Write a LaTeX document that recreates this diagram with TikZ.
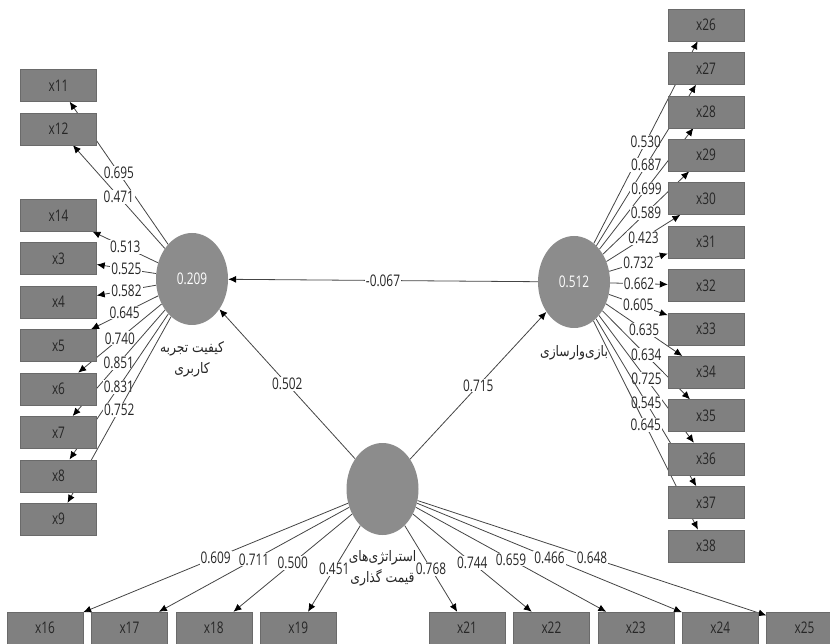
\documentclass[tikz,border=0pt]{standalone}
\usepackage{fontspec}
\setmainfont[FakeStretch=0.74]{Open Sans}
\newfontfamily\fafont[Script=Arabic,FakeStretch=0.85]{DejaVu Sans}
\TeXXeTstate=1
\usetikzlibrary{arrows.meta,positioning,shapes.geometric,backgrounds}
\definecolor{boxfill}{HTML}{808080}
\definecolor{boxrule}{HTML}{6A6A6A}
\definecolor{lvfill}{HTML}{8C8C8C}
\definecolor{pathgray}{HTML}{444444}

\begin{document}
\begin{tikzpicture}[
  x=1pt, y=-1pt,
  font=\fontsize{16}{18}\selectfont,
  item/.style={draw=boxrule, fill=boxfill, minimum width=76pt, minimum height=32pt,
               inner sep=0pt, text=black!85},
  lv/.style={ellipse, fill=lvfill, minimum width=72pt, minimum height=92pt,
             inner sep=0pt, text=white},
  load/.style={-{Latex[length=8pt, width=7pt, color=black]}, draw=pathgray, line width=0.8pt},
  coef/.style={fill=white, inner sep=1pt, text=black!85},
  falbl/.style={font=\fafont\fontsize{14.5}{21}\selectfont, align=center, text=black!85},
]
\useasboundingbox (0,0) rectangle (830,644);

% latent variables
\node[lv] (quality) at (192,279) {0.209};
\node[lv] (gamify) at (574,282) {0.512};
\node[lv] (pricing) at (382.5,489) {};

\node[falbl, below=13pt of quality] (qualitylbl) {\beginR کیفیت تجربه\endR\\\beginR کاربری\endR};
\node[falbl, below=14pt of gamify] (gamifylbl) {\beginR بازی‌وارسازی\endR};
\node[falbl, below=12pt of pricing] (pricinglbl) {\beginR استراتژی‌های\endR\\\beginR قیمت گذاری\endR};

% left indicators
\node[item] (x11) at (58.5,85.5) {x11};
\node[item, below=11pt of x11] (x12) {x12};
\node[item, below=54pt of x12] (x14) {x14};
\node[item, below=11pt of x14] (x3) {x3};
\node[item, below=11pt of x3] (x4) {x4};
\node[item, below=11pt of x4] (x5) {x5};
\node[item, below=11pt of x5] (x6) {x6};
\node[item, below=11pt of x6] (x7) {x7};
\node[item, below=11pt of x7] (x8) {x8};
\node[item, below=11pt of x8] (x9) {x9};

% right indicators
\node[item] (x26) at (706,25) {x26};
\node[item, below=11pt of x26] (x27) {x27};
\node[item, below=11pt of x27] (x28) {x28};
\node[item, below=11pt of x28] (x29) {x29};
\node[item, below=11pt of x29] (x30) {x30};
\node[item, below=11pt of x30] (x31) {x31};
\node[item, below=11pt of x31] (x32) {x32};
\node[item, below=11pt of x32] (x33) {x33};
\node[item, below=11pt of x33] (x34) {x34};
\node[item, below=11pt of x34] (x35) {x35};
\node[item, below=11pt of x35] (x36) {x36};
\node[item, below=11pt of x36] (x37) {x37};
\node[item, below=11pt of x37] (x38) {x38};

% bottom indicators
\node[item] (x16) at (45,628) {x16};
\node[item, right=8pt of x16] (x17) {x17};
\node[item, right=8pt of x17] (x18) {x18};
\node[item, right=8pt of x18] (x19) {x19};
\node[item] (x21) at (467,628) {x21};
\node[item, right=8pt of x21] (x22) {x22};
\node[item, right=8pt of x22] (x23) {x23};
\node[item, right=8pt of x23] (x24) {x24};
\node[item, right=8pt of x24] (x25) {x25};

\begin{scope}[on background layer]
  % structural paths
  \draw[load] (gamify) -- node[coef]{-0.067} (quality);
  \draw[load] (pricing) -- node[coef]{0.502} (quality);
  \draw[load] (pricing) -- node[coef]{0.715} (gamify);

  \draw[load] (quality) -- node[coef]{0.695} (x11);
  \draw[load] (quality) -- node[coef]{0.471} (x12);
  \draw[load] (quality) -- node[coef]{0.513} (x14);
  \draw[load] (quality) -- node[coef]{0.525} (x3);
  \draw[load] (quality) -- node[coef]{0.582} (x4);
  \draw[load] (quality) -- node[coef]{0.645} (x5);
  \draw[load] (quality) -- node[coef]{0.740} (x6);
  \draw[load] (quality) -- node[coef]{0.851} (x7);
  \draw[load] (quality) -- node[coef]{0.831} (x8);
  \draw[load] (quality) -- node[coef]{0.752} (x9);

  \draw[load] (gamify) -- node[coef]{0.530} (x26);
  \draw[load] (gamify) -- node[coef]{0.687} (x27);
  \draw[load] (gamify) -- node[coef]{0.699} (x28);
  \draw[load] (gamify) -- node[coef]{0.589} (x29);
  \draw[load] (gamify) -- node[coef]{0.423} (x30);
  \draw[load] (gamify) -- node[coef]{0.732} (x31);
  \draw[load] (gamify) -- node[coef]{0.662} (x32);
  \draw[load] (gamify) -- node[coef]{0.605} (x33);
  \draw[load] (gamify) -- node[coef]{0.635} (x34);
  \draw[load] (gamify) -- node[coef]{0.634} (x35);
  \draw[load] (gamify) -- node[coef]{0.725} (x36);
  \draw[load] (gamify) -- node[coef]{0.545} (x37);
  \draw[load] (gamify) -- node[coef]{0.645} (x38);

  \draw[load] (pricing) -- node[coef]{0.609} (x16);
  \draw[load] (pricing) -- node[coef]{0.711} (x17);
  \draw[load] (pricing) -- node[coef]{0.500} (x18);
  \draw[load] (pricing) -- node[coef]{0.451} (x19);
  \draw[load] (pricing) -- node[coef]{0.768} (x21);
  \draw[load] (pricing) -- node[coef]{0.744} (x22);
  \draw[load] (pricing) -- node[coef]{0.659} (x23);
  \draw[load] (pricing) -- node[coef]{0.466} (x24);
  \draw[load] (pricing) -- node[coef]{0.648} (x25);
\end{scope}

\end{tikzpicture}
\end{document}
